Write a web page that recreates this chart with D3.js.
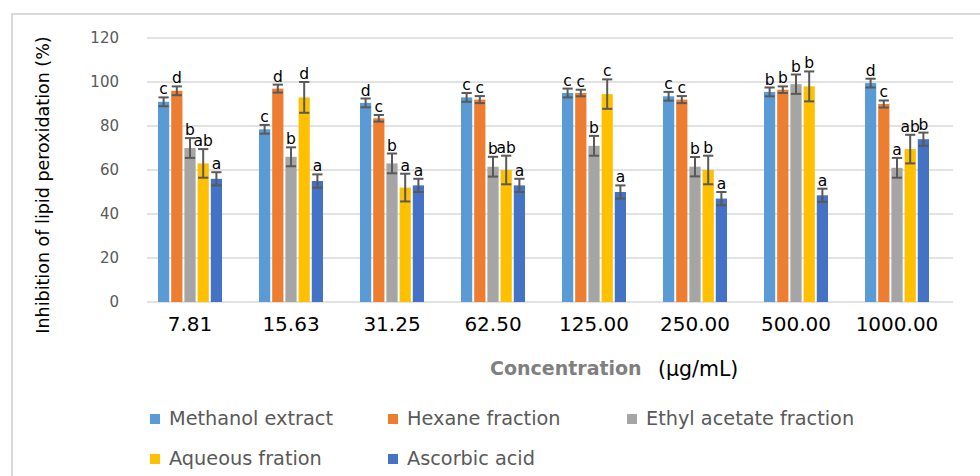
<!DOCTYPE html>
<html>
<head>
<meta charset="utf-8">
<script src="https://cdn.jsdelivr.net/npm/d3@7"></script>
<style>
	body { margin: 0; background: #fff; }
	svg { font-family: "DejaVu Sans", sans-serif; }
</style>
</head>
<body>
<div id="chart"></div>
<script>
// Data
//---------------------------------------------------------------------------
var concentrations = ["7.81", "15.63", "31.25", "62.50", "125.00", "250.00", "500.00", "1000.00"];
var seriesNames = ["Methanol extract", "Hexane fraction", "Ethyl acetate fraction", "Aqueous fration", "Ascorbic acid"];
var seriesColors = ["#5B9BD5", "#ED7D31", "#A5A5A5", "#FFC000", "#4472C4"];

var methanol = [91, 78.5, 90.5, 93, 95, 93.5, 95.5, 99.5];
var hexane = [96, 97, 83.5, 92, 95, 92, 96.5, 90];
var ethylAcetate = [70, 66, 63, 61.5, 71, 61.5, 99, 61];
var aqueous = [63, 93, 52, 60, 94.5, 60, 98, 69.5];
var ascorbic = [56, 55, 53, 53, 50, 47, 48.5, 74];

var methanolErr = [2, 2, 2, 2, 2, 2, 2, 2];
var hexaneErr = [2, 1.8, 1.5, 1.6, 1.5, 1.6, 1.5, 1.6];
var ethylAcetateErr = [4.5, 4.3, 4.5, 4.5, 4.5, 4.4, 4.4, 4.5];
var aqueousErr = [6.5, 7, 6.3, 6.5, 6.7, 6.5, 6.8, 6.5];
var ascorbicErr = [3, 3, 3, 3, 3, 3, 3, 3];

var methanolLetters = ["c", "c", "d", "c", "c", "c", "b", "d"];
var hexaneLetters = ["d", "d", "c", "c", "c", "c", "b", "c"];
var ethylAcetateLetters = ["b", "b", "b", "b", "b", "b", "b", "a"];
var aqueousLetters = ["ab", "d", "a", "ab", "c", "b", "b", "ab"];
var ascorbicLetters = ["a", "a", "a", "a", "a", "a", "a", "b"];

var yTicks = [0, 20, 40, 60, 80, 100, 120];

// build rows for the bars
var values = [methanol, hexane, ethylAcetate, aqueous, ascorbic];
var errors = [methanolErr, hexaneErr, ethylAcetateErr, aqueousErr, ascorbicErr];
var letters = [methanolLetters, hexaneLetters, ethylAcetateLetters, aqueousLetters, ascorbicLetters];

var rows = [];
for (var i = 0; i < concentrations.length; i++) {
	for (var s = 0; s < seriesNames.length; s++) {
		rows.push({
			cat: concentrations[i],
			series: seriesNames[s],
			value: values[s][i],
			err: errors[s][i],
			letter: letters[s][i]
		});
	}
}

// Chart
//---------------------------------------------------------------------------
var width = 980, height = 476;
var svg = d3.select("#chart").append("svg")
	.attr("width", width)
	.attr("height", height);

// chart area border
svg.append("rect")
	.attr("x", 12).attr("y", 14)
	.attr("width", 980).attr("height", 480)
	.attr("fill", "none")
	.attr("stroke", "#d9d9d9")
	.attr("stroke-width", 2);

var x0 = d3.scaleBand().domain(concentrations).range([139.5, 947.5]);
var groupW = 64;
var x1 = d3.scaleBand().domain(seriesNames).range([0, groupW]).paddingInner(0.15);
var y = d3.scaleLinear().domain([0, 120]).range([302, 38]);
var color = d3.scaleOrdinal().domain(seriesNames).range(seriesColors);

// gridlines
svg.append("g").selectAll("line")
	.data(yTicks).enter()
	.append("line")
	.attr("x1", 147).attr("x2", 953)
	.attr("y1", function(d) { return y(d); })
	.attr("y2", function(d) { return y(d); })
	.attr("stroke", "#d9d9d9")
	.attr("stroke-width", 1.5);

// y axis labels
var yAxis = svg.append("g")
	.attr("transform", "translate(127,0)")
	.call(d3.axisLeft(y).tickValues(yTicks).tickSize(0).tickPadding(8));
yAxis.select(".domain").remove();
yAxis.selectAll("text")
	.attr("fill", "#595959")
	.attr("font-size", "15px")
	.attr("font-family", "DejaVu Sans, sans-serif");

// x axis labels
var xAxis = svg.append("g")
	.attr("transform", "translate(0,307)")
	.call(d3.axisBottom(x0).tickSize(0).tickPadding(10));
xAxis.select(".domain").remove();
xAxis.selectAll("text")
	.attr("fill", "#000")
	.attr("font-size", "20px")
	.attr("font-family", "DejaVu Sans, sans-serif");

function barX(d) {
	return x0(d.cat) + (x0.bandwidth() - groupW) / 2 + x1(d.series);
}

// bars
svg.append("g").selectAll("rect")
	.data(rows).enter()
	.append("rect")
	.attr("x", barX)
	.attr("y", function(d) { return y(d.value); })
	.attr("width", x1.bandwidth())
	.attr("height", function(d) { return y(0) - y(d.value); })
	.attr("fill", function(d) { return color(d.series); });

// error bars
var eb = svg.append("g")
	.attr("stroke", "#595959")
	.attr("stroke-width", 2);
eb.selectAll("line.v")
	.data(rows).enter()
	.append("line")
	.attr("class", "v")
	.attr("x1", function(d) { return barX(d) + x1.bandwidth() / 2; })
	.attr("x2", function(d) { return barX(d) + x1.bandwidth() / 2; })
	.attr("y1", function(d) { return y(d.value + d.err); })
	.attr("y2", function(d) { return y(d.value - d.err); });
["top", "bottom"].forEach(function(side) {
	eb.selectAll("line." + side)
		.data(rows).enter()
		.append("line")
		.attr("class", side)
		.attr("x1", function(d) { return barX(d) + 0.5; })
		.attr("x2", function(d) { return barX(d) + x1.bandwidth() - 0.5; })
		.attr("y1", function(d) { return y(side == "top" ? d.value + d.err : d.value - d.err); })
		.attr("y2", function(d) { return y(side == "top" ? d.value + d.err : d.value - d.err); });
});

// significance letters
svg.append("g").selectAll("text")
	.data(rows).enter()
	.append("text")
	.attr("x", function(d) { return barX(d) + x1.bandwidth() / 2; })
	.attr("y", function(d) { return y(d.value + d.err) - 3; })
	.attr("text-anchor", "middle")
	.attr("font-size", "15.5px")
	.attr("fill", "#000")
	.text(function(d) { return d.letter; });

// axis titles
svg.append("text")
	.attr("transform", "translate(49,185) rotate(-90)")
	.attr("text-anchor", "middle")
	.attr("font-size", "17.5px")
	.attr("fill", "#000")
	.text("Inhibition of lipid peroxidation (%)");

svg.append("text")
	.attr("x", 490).attr("y", 375)
	.attr("font-size", "19px")
	.attr("font-weight", "bold")
	.attr("fill", "#7f7f7f")
	.text("Concentration");
svg.append("text")
	.attr("x", 658).attr("y", 376)
	.attr("font-size", "20.5px")
	.attr("fill", "#000")
	.text("(µg/mL)");

// legend
var legendPos = [[150, 414], [388, 414], [627, 414], [150, 454], [388, 454]];
var legend = svg.append("g").selectAll("g")
	.data(seriesNames).enter()
	.append("g")
	.attr("transform", function(d, i) {
		return "translate(" + legendPos[i][0] + "," + legendPos[i][1] + ")";
	});
legend.append("rect")
	.attr("width", 10).attr("height", 10)
	.attr("fill", function(d) { return color(d); });
legend.append("text")
	.attr("x", 19).attr("y", 11)
	.attr("font-size", "19.3px")
	.attr("fill", "#595959")
	.text(function(d) { return d; });
</script>
</body>
</html>
